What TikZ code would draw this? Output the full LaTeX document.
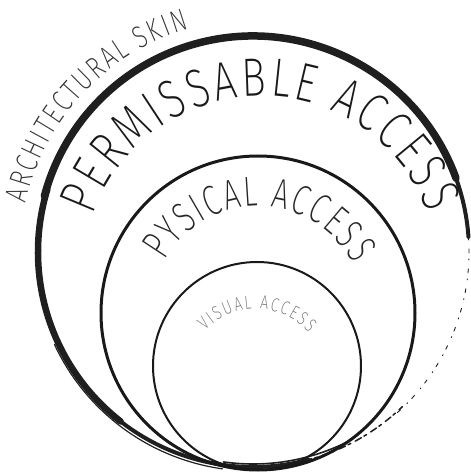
\documentclass[tikz,border=0pt]{standalone}
\usepackage{fontspec}
\newfontfamily\thinfont{Fira Sans ExtraLight}[FakeStretch=0.75]
\newfontfamily\thinnarrow{Fira Sans ExtraLight}[FakeStretch=0.7]
\usetikzlibrary{decorations.text}

\begin{document}
\begin{tikzpicture}[x=1pt, y=1pt,
    brush/.style={draw=black!88, line cap=round},
    ring/.style={draw=black!90},
    arclabel/.style={decorate, decoration={text along path, text align=fit to path, text color=#1}}
  ]
    \useasboundingbox (0,0) rectangle (471,475);
    \coordinate (skin) at (253,223);
    \coordinate (phys) at (258,162);
    \coordinate (vis) at (257,109);
    \coordinate (permc) at (261,201);
    \coordinate (visc) at (256,95);

    \draw[brush, line width=4] (skin) ++(4:216) arc[start angle=4, end angle=22, radius=216];
    \draw[brush, line width=7.5] (skin) ++(20:216) arc[start angle=20, end angle=165, radius=216];
    \draw[brush, line width=6.5] (skin) ++(163:215) arc[start angle=163, end angle=232, radius=215];
    \draw[brush, line width=4] (skin) ++(230:215) arc[start angle=230, end angle=285, radius=215];
    \draw[brush, line width=1.2] (skin) ++(205:219) arc[start angle=205, end angle=262, radius=219];
    \draw[brush, line width=1.6] (skin) ++(262:212) arc[start angle=262, end angle=296, radius=212];
    \draw[brush, line width=1.5, dash pattern=on 7pt off 3pt on 3pt off 5pt] (skin) ++(284:215) arc[start angle=284, end angle=314, radius=215];
    \draw[brush, line width=0.9, dash pattern=on 4pt off 9pt on 1pt off 6pt] (skin) ++(312:216) arc[start angle=312, end angle=365, radius=216];

    \draw[ring, line width=3] (phys) circle[radius=157];
    \draw[ring, line width=2] (vis) circle[radius=104];

    \path[arclabel=black!80, decoration={text={|\thinfont\fontsize{31}{31}\selectfont|ARCHITECTURAL SKIN}}]
      (skin) ++(168:232) arc[start angle=168, end angle=106, radius=232];
    \path[arclabel=black!90, decoration={text={|\thinfont\fontsize{54}{54}\selectfont|PERMISSABLE ACCESS}}]
      (permc) ++(161:178) arc[start angle=161, end angle=20, radius=178];
    \path[arclabel=black!85, decoration={text={|\thinnarrow\fontsize{42}{42}\selectfont|PYSICAL ACCESS}}]
      (phys) ++(151:107) arc[start angle=151, end angle=27, radius=107];
    \path[arclabel=black!55, decoration={text={|\thinfont\fontsize{19}{19}\selectfont|VISUAL ACCESS}}]
      (visc) ++(136:71) arc[start angle=136, end angle=42, radius=71];
  \end{tikzpicture}
\end{document}
